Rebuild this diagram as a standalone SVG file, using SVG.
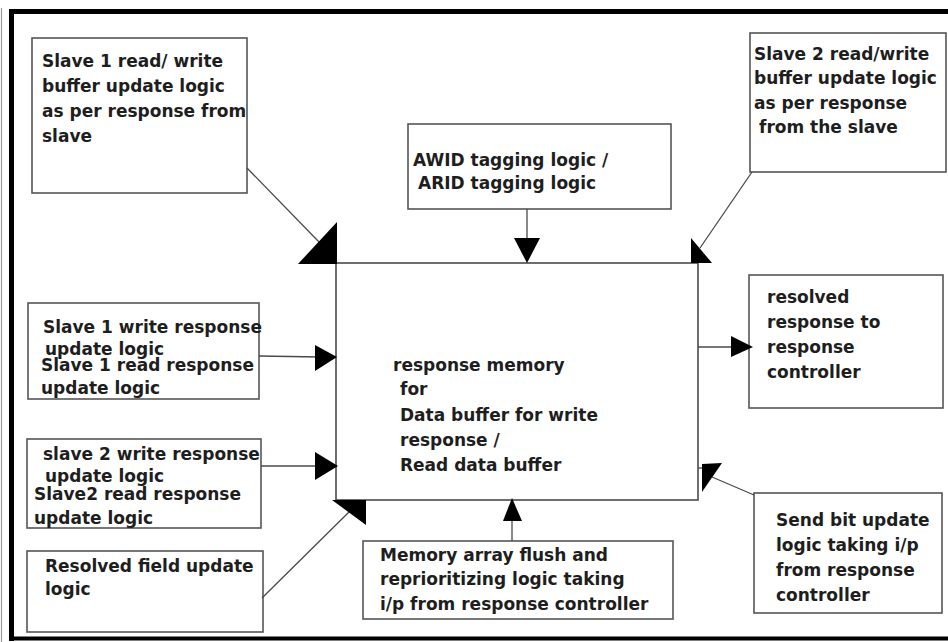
<svg xmlns="http://www.w3.org/2000/svg" width="948" height="642" viewBox="0 0 948 642">
  <style>
    .box { fill: #ffffff; stroke: #555555; stroke-width: 1.6; }
    .main { fill: #ffffff; stroke: #4a4a4a; stroke-width: 1.6; }
    .lbl { font-family: "DejaVu Sans", "Liberation Sans", sans-serif; font-weight: bold; font-size: 17px; fill: #1e1e1e; }
    .wire { fill: none; stroke: #4a4a4a; stroke-width: 1.3; }
    .head { fill: #000000; stroke: none; }
    .frame { fill: none; stroke: #000000; }
  </style>

  <rect x="0" y="0" width="948" height="642" fill="#ffffff"/>

  <!-- outer frame -->
  <g id="frame">
    <line x1="1.5" y1="8" x2="1.5" y2="642" stroke="#9a9a9a" stroke-width="1.2"/>
    <line class="frame" x1="9" y1="11.5" x2="948" y2="11.5" stroke-width="5"/>
    <line class="frame" x1="11.5" y1="9" x2="11.5" y2="641" stroke-width="5"/>
    <line class="frame" x1="9" y1="638.5" x2="948" y2="638.5" stroke-width="4"/>
  </g>

  <!-- central memory block -->
  <g id="response-memory">
    <rect class="main" x="336" y="263" width="362" height="237"/>
    <text class="lbl" x="393" y="371">response memory</text>
    <text class="lbl" x="400" y="395">for</text>
    <text class="lbl" x="400" y="421">Data buffer for write</text>
    <text class="lbl" x="400" y="446">response /</text>
    <text class="lbl" x="400" y="471">Read data buffer</text>
  </g>

  <g id="slave1-buffer-update">
    <rect class="box" x="32" y="38" width="215" height="155"/>
    <text class="lbl" x="42" y="67">Slave 1 read/ write</text>
    <text class="lbl" x="42" y="92">buffer update logic</text>
    <text class="lbl" x="42" y="117">as per response from</text>
    <text class="lbl" x="42" y="142">slave</text>
  </g>

  <g id="id-tagging">
    <rect class="box" x="408" y="124" width="263" height="85"/>
    <text class="lbl" x="413" y="166">AWID tagging logic /</text>
    <text class="lbl" x="418" y="189">ARID tagging logic</text>
  </g>

  <g id="slave2-buffer-update">
    <rect class="box" x="750" y="33" width="196" height="139"/>
    <text class="lbl" x="754" y="60">Slave 2 read/write</text>
    <text class="lbl" x="754" y="84">buffer update logic</text>
    <text class="lbl" x="754" y="109">as per response</text>
    <text class="lbl" x="759" y="133">from the slave</text>
  </g>

  <g id="slave1-response-update">
    <rect class="box" x="28" y="303" width="231" height="96"/>
    <text class="lbl" x="43" y="333">Slave 1 write response</text>
    <text class="lbl" x="45" y="355">update logic</text>
    <text class="lbl" x="41" y="371">Slave 1 read response</text>
    <text class="lbl" x="41" y="394">update logic</text>
  </g>

  <g id="slave2-response-update">
    <rect class="box" x="27" y="439" width="234" height="89"/>
    <text class="lbl" x="43" y="460">slave 2 write response</text>
    <text class="lbl" x="45" y="482">update logic</text>
    <text class="lbl" x="34" y="500">Slave2 read response</text>
    <text class="lbl" x="34" y="524">update logic</text>
  </g>

  <g id="resolved-field-update">
    <rect class="box" x="27" y="551" width="236" height="81"/>
    <text class="lbl" x="45" y="572">Resolved field update</text>
    <text class="lbl" x="45" y="595">logic</text>
  </g>

  <g id="flush-reprioritize">
    <rect class="box" x="363" y="541" width="310" height="78"/>
    <text class="lbl" x="380" y="561">Memory array flush and</text>
    <text class="lbl" x="380" y="585">reprioritizing logic taking</text>
    <text class="lbl" x="380" y="610">i/p from response controller</text>
  </g>

  <g id="resolved-response">
    <rect class="box" x="749" y="275" width="194" height="133"/>
    <text class="lbl" x="767" y="303">resolved</text>
    <text class="lbl" x="767" y="328">response to</text>
    <text class="lbl" x="767" y="353">response</text>
    <text class="lbl" x="767" y="378">controller</text>
  </g>

  <g id="send-bit-update">
    <rect class="box" x="754" y="493" width="188" height="120"/>
    <text class="lbl" x="776" y="526">Send bit update</text>
    <text class="lbl" x="776" y="551">logic taking i/p</text>
    <text class="lbl" x="776" y="576">from response</text>
    <text class="lbl" x="776" y="601">controller</text>
  </g>

  <!-- connectors -->
  <g id="connectors">
    <line class="wire" x1="247" y1="168" x2="320" y2="243"/>
    <polygon class="head" points="298,264 337,222 337,264"/>

    <line class="wire" x1="527" y1="209" x2="527" y2="245"/>
    <polygon class="head" points="514,238 540,238 527,263"/>

    <line class="wire" x1="752" y1="172" x2="700" y2="248"/>
    <polygon class="head" points="691,238 712,263 691,263"/>

    <line class="wire" x1="259" y1="356" x2="320" y2="357"/>
    <polygon class="head" points="315,345 337,357 315,371"/>

    <line class="wire" x1="261" y1="466" x2="320" y2="466"/>
    <polygon class="head" points="315,452 338,466 315,480"/>

    <line class="wire" x1="262" y1="598" x2="350" y2="511"/>
    <polygon class="head" points="332,500 366,500 366,525"/>

    <line class="wire" x1="512" y1="541" x2="512" y2="515"/>
    <polygon class="head" points="503,521 512,498 522,521"/>

    <line class="wire" x1="698" y1="347" x2="735" y2="347"/>
    <polygon class="head" points="731,336 753,347 731,357"/>

    <line class="wire" x1="754" y1="495" x2="712" y2="477"/>
    <line class="wire" x1="698" y1="468" x2="703" y2="468"/>
    <polygon class="head" points="702,464 722,463 702,492"/>
  </g>
</svg>
